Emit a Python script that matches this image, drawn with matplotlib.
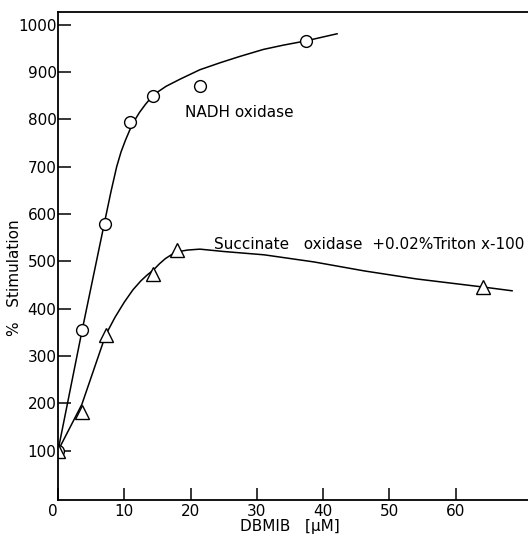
import matplotlib
matplotlib.use("Agg")
import matplotlib.pyplot as plt
import matplotlib.transforms as mtransforms

# Measured data points
nadh_x = [0, 3.6, 7.1, 10.9, 14.4, 21.4, 37.4]
nadh_y = [100, 355, 580, 795, 850, 870, 966]
succ_x = [0, 3.6, 7.2, 14.4, 17.9, 64.1]
succ_y = [100, 182, 345, 474, 524, 446]

# Hand-drawn fit curves
nadh_curve_x = [0, 3.6, 7.1, 8.0, 8.85, 9.5, 10.2, 10.9, 11.6, 12.3, 13.2, 14.4, 16.3, 18.4, 21.4, 24.5, 27.4, 31.0, 34.0, 37.4, 42.1]
nadh_curve_y = [100, 352, 588, 648, 700, 731, 757, 780, 799, 815, 832, 852, 870, 885, 905, 920, 933, 948, 957, 966, 981]
succ_curve_x = [0, 3.6, 7.2, 8.6, 10.0, 11.3, 12.5, 13.5, 14.4, 15.3, 16.2, 17.2, 18.3, 19.5, 21.4, 25.0, 31.1, 38.6, 46.2, 54.1, 64.1, 68.5]
succ_curve_y = [100, 198, 345, 382, 414, 440, 459, 472, 482, 495, 506, 515, 521, 524, 526, 521, 514, 499, 480, 463, 446, 438]

x_ticks = [0, 10, 20, 30, 40, 50, 60]
x_ticklabels = ["0", "10", "20", "30", "40", "50", "60"]
y_ticks = [100, 200, 300, 400, 500, 600, 700, 800, 900, 1000]

fig = plt.figure(figsize=(5.28, 5.44), dpi=100)
ax = fig.add_axes([58/528, 44/544, 470/528, 488/544])
ax.set_xlim(0, 70.9)
ax.set_ylim(-4, 1027)

ax.plot(nadh_curve_x, nadh_curve_y, color="black", lw=1.1)
ax.plot(succ_curve_x, succ_curve_y, color="black", lw=1.1)
ax.plot(nadh_x, nadh_y, "o", ms=8.5, mfc="white", mec="black", mew=1.0, ls="none")
ax.plot(succ_x, succ_y, "^", ms=9.5, mfc="white", mec="black", mew=1.0, ls="none")

ax.spines["right"].set_visible(False)
for s in ["left", "top", "bottom"]:
    ax.spines[s].set_linewidth(1.3)

ax.set_xticks(x_ticks)
ax.set_xticklabels(x_ticklabels)
ax.set_yticks(y_ticks)
ax.tick_params(direction="in", length=9, width=1.1, labelsize=11)
ax.tick_params(axis="x", pad=3)
ax.tick_params(axis="y", pad=1)
# shift the "0" label slightly left like the reference
lbl0 = ax.get_xticklabels()[0]
lbl0.set_transform(lbl0.get_transform() + mtransforms.ScaledTranslation(-5/100, 0, fig.dpi_scale_trans))

ax.text(19.2, 814, "NADH oxidase", fontsize=11, ha="left", va="center")
ax.text(23.6, 535, "Succinate   oxidase  +0.02%Triton x-100", fontsize=11,
        ha="left", va="center", clip_on=False)

fig.text(290/528, 1 - 526/544, "DBMIB   [μM]", ha="center", va="center", fontsize=11)
fig.text(15/528, 1 - 278/544, "%   Stimulation", ha="center", va="center",
         rotation=90, fontsize=11)

fig.savefig("out.png", dpi=100)
